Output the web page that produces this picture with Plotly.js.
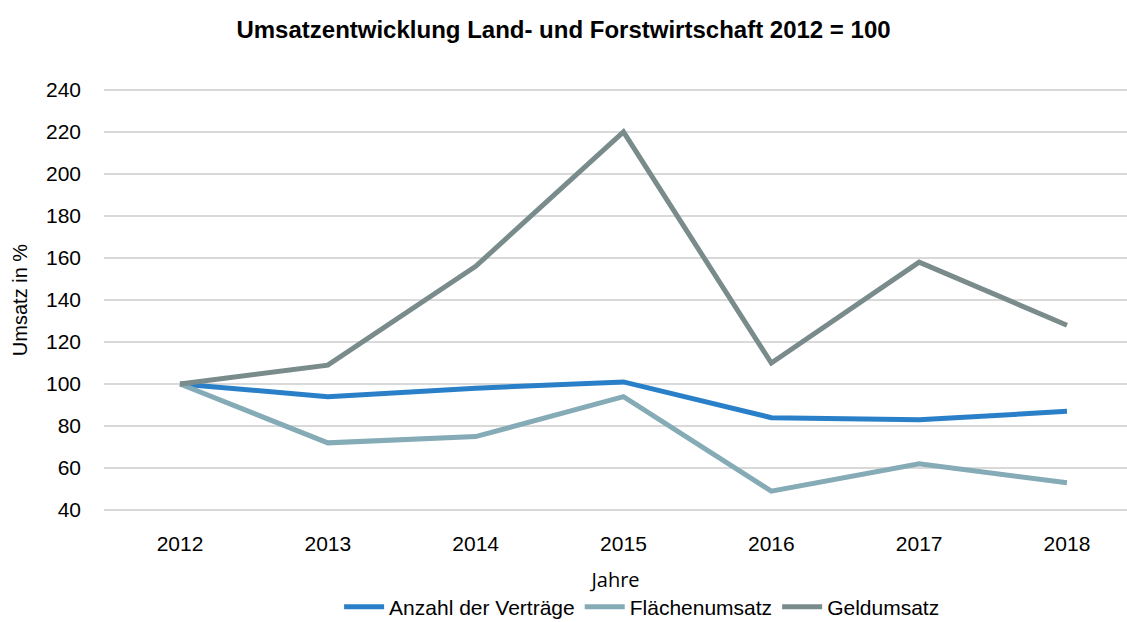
<!DOCTYPE html>
<html>
<head>
<meta charset="utf-8">
<script src="https://cdn.plot.ly/plotly-3.0.1.min.js"></script>
<style>html,body{margin:0;padding:0;background:#fff;}#chart{width:1127px;height:622px;}</style>
</head>
<body>
<div id="chart"></div>
<script>
var years = ["2012", "2013", "2014", "2015", "2016", "2017", "2018"];
var anzahlVertraege = [100, 94, 98, 101, 84, 83, 87];
var flaechenumsatz = [100, 72, 75, 94, 49, 62, 53];
var geldumsatz = [100, 109, 156, 220, 110, 158, 128];
var yTicks = [40, 60, 80, 100, 120, 140, 160, 180, 200, 220, 240];

var narrow = "'Liberation Sans', Arial, sans-serif";

var traces = [
  {x: years, y: anzahlVertraege, name: "Anzahl der Verträge", type: "scatter", mode: "lines",
   line: {color: "#2a80c8", width: 5}},
  {x: years, y: flaechenumsatz, name: "Flächenumsatz", type: "scatter", mode: "lines",
   line: {color: "#84abb6", width: 5}},
  {x: years, y: geldumsatz, name: "Geldumsatz", type: "scatter", mode: "lines",
   line: {color: "#7a8b8b", width: 5}}
];

var layout = {
  width: 1127, height: 622,
  margin: {l: 104, r: 0, t: 88, b: 110, autoexpand: false},
  paper_bgcolor: "#fff", plot_bgcolor: "#fff",
  title: {text: "<b>Umsatzentwicklung Land- und Forstwirtschaft 2012 = 100</b>",
          font: {family: narrow, size: 24, color: "#000"},
          x: 0.5, xanchor: "center", y: 0.953, yanchor: "middle", xref: "container", yref: "container"},
  xaxis: {type: "category", range: [-0.514, 6.406], showgrid: false, zeroline: false, showline: false,
          tickfont: {family: narrow, size: 21, color: "#000"}, ticklabelstandoff: 17,
          title: {text: "Jahre", font: {family: "'Open Sans', sans-serif", size: 20, color: "#000"}, standoff: 18}},
  yaxis: {range: [39.1, 240.9], tickvals: yTicks, showgrid: true, gridcolor: "#d9d9d9", gridwidth: 2,
          zeroline: false, showline: false,
          tickfont: {family: narrow, size: 21, color: "#000"}, ticklabelstandoff: 22,
          title: {text: "Umsatz in %", font: {family: narrow, size: 20, color: "#000"}, standoff: 12}},
  showlegend: true,
  legend: {orientation: "h", x: 0.526, xanchor: "center", y: -0.176, yanchor: "top",
           font: {family: narrow, size: 21, color: "#000"}, itemwidth: 40, tracegroupgap: 0}
};

Plotly.newPlot("chart", traces, layout, {displayModeBar: false, staticPlot: true});
</script>
</body>
</html>
